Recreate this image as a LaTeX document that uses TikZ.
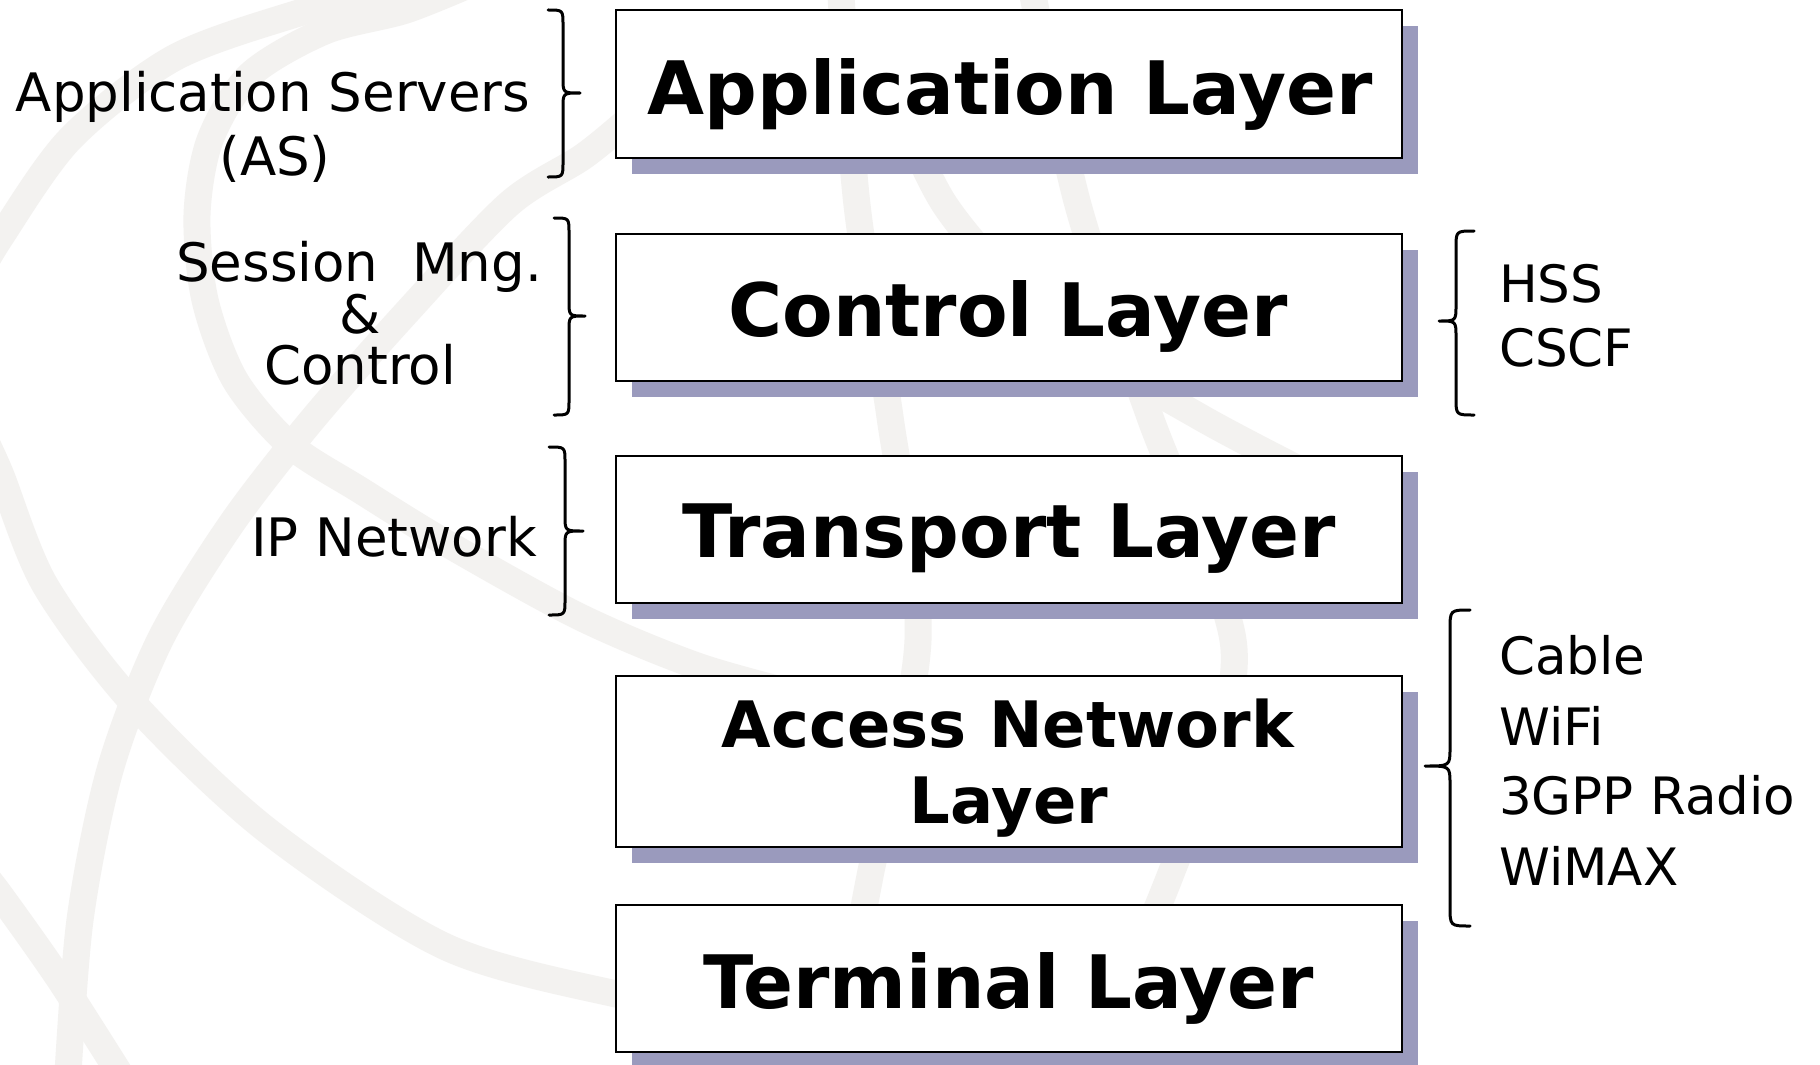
\documentclass[tikz,border=0pt]{standalone}
\usepackage{fontspec}
\setmainfont{DejaVu Sans}
\usetikzlibrary{shadows}
\definecolor{wm}{RGB}{243,242,240}
\definecolor{shadowc}{RGB}{154,154,189}
\tikzset{
  layerbox/.style={draw=black, line width=2pt, fill=white, minimum width=786pt, inner sep=0pt,
    general shadow={fill=shadowc, shadow xshift=16pt, shadow yshift=-16pt}},
  layertext/.style={font=\fontsize{73.7}{76.6}\selectfont\bfseries, anchor=base, inner sep=0pt},
  acctext/.style={font=\fontsize{64}{70}\selectfont\bfseries, anchor=base, inner sep=0pt},
  lefttext/.style={font=\fontsize{53}{51.3}\selectfont, anchor=base, inner sep=0pt},
  righttext/.style={font=\fontsize{51.5}{60}\selectfont, anchor=base west, inner sep=0pt},
  brace/.style={line width=3pt, line cap=round, line join=round},
  wmline/.style={draw=wm, line width=27pt, line cap=round}
}
\begin{document}
\begin{tikzpicture}[x=1pt,y=-1pt]
\useasboundingbox (0,0) rectangle (1820,1065);
\fill[white] (0,0) rectangle (1820,1065);
% watermark
\begin{scope}
\clip (0,0) rectangle (1820,1065);
\draw[wmline] plot[smooth] coordinates {(-30,290) (0,238) (70,139) (174,58) (302,12) (420,-20)};
\draw[wmline] plot[smooth] coordinates {(480,-20) (406,10) (325,31) (250,75) (210,140) (197,215) (205,300) (235,380) (290,445) (360,490) (446,543) (580,617) (700,667) (820,700)};
\draw[wmline] plot[smooth] coordinates {(700,60) (640,110) (584,156) (509,204) (407,312) (312,420) (232,523) (160,640) (110,770) (80,920) (67,1090)};
\draw[wmline] plot[smooth] coordinates {(-20,430) (0,473) (45,585) (134,704) (268,831) (446,947) (625,996) (760,1020)};
\draw[wmline] plot[smooth] coordinates {(-20,870) (0,895) (60,980) (130,1090)};
\draw[wmline] plot[smooth] coordinates {(1030,-20) (1078,205) (1150,417) (1233,640) (1205,780) (1170,876) (1120,1000) (1090,1090)};
\draw[wmline] plot[smooth] coordinates {(840,-20) (857,205) (890,417) (918,640) (870,876) (830,1090)};
\draw[wmline] plot[smooth] coordinates {(880,60) (945,205) (1060,330) (1200,417) (1320,480)};
\end{scope}

% layer boxes
\node[layerbox, minimum height=148pt] (app) at (1009,84) {};
\node[layerbox, minimum height=147pt] (ctrl) at (1009,307) {};
\node[layerbox, minimum height=147pt] (trans) at (1009,529) {};
\node[layerbox, minimum height=171pt] (acc) at (1009,761) {};
\node[layerbox, minimum height=147pt] (term) at (1009,978.5) {};

\node[layertext] (appT) at (1010,114) {Application Layer};
\node[layertext] (ctrlT) at (1008,336.5) {Control Layer};
\node[layertext] (transT) at (1009,557.5) {Transport Layer};
\node[acctext] (accT1) at (1008,747) {Access Network};
\node[acctext] (accT2) at (1009,823.6) {Layer};
\node[layertext] (termT) at (1008.5,1008) {Terminal Layer};

% left labels
\node[lefttext] (as1) at (273,111.5) {Application Servers};
\node[lefttext] (as2) at (275,175) {(AS)};
\node[lefttext] (sm1) at (359,281.5) {Session\ \ Mng.};
\node[lefttext] (sm2) at (360,333) {\&};
\node[lefttext] (sm3) at (360,384) {Control};
\node[lefttext, anchor=base east] (ip) at (537,556) {IP Network};

% right labels
\node[righttext] (hss) at (1499,302.5) {HSS};
\node[righttext] (cscf) at (1499,366) {CSCF};
\node[righttext] (cable) at (1499,674) {Cable};
\node[righttext] (wifi) at (1499,745) {WiFi};
\node[righttext] (gpp) at (1499,814) {3GPP Radio};
\node[righttext] (wimax) at (1499,885.5) {WiMAX};

% braces (left side, pointing right)
\draw[brace] (548,10) .. controls (563,10) .. (563,25) -- (563,78) .. controls (563,93) .. (580,93)
  .. controls (563,93) .. (563,108) -- (563,162) .. controls (563,177) .. (548,177);
\draw[brace] (554,218) .. controls (569,218) .. (569,233) -- (569,301) .. controls (569,316) .. (585,316)
  .. controls (569,316) .. (569,331) -- (569,400) .. controls (569,415) .. (554,415);
\draw[brace] (549,447) .. controls (565,447) .. (565,462) -- (565,516) .. controls (565,531) .. (583,531)
  .. controls (565,531) .. (565,546) -- (565,600) .. controls (565,615) .. (549,615);
% braces (right side, pointing left)
\draw[brace] (1474,231) .. controls (1456,231) .. (1456,248) -- (1456,305) .. controls (1456,321) .. (1439,321)
  .. controls (1456,321) .. (1456,337) -- (1456,398) .. controls (1456,415) .. (1474,415);
\draw[brace] (1470,610) .. controls (1450,610) .. (1450,630) -- (1450,748) .. controls (1450,766) .. (1425,766)
  .. controls (1450,766) .. (1450,784) -- (1450,906) .. controls (1450,926) .. (1470,926);
\end{tikzpicture}
\end{document}
